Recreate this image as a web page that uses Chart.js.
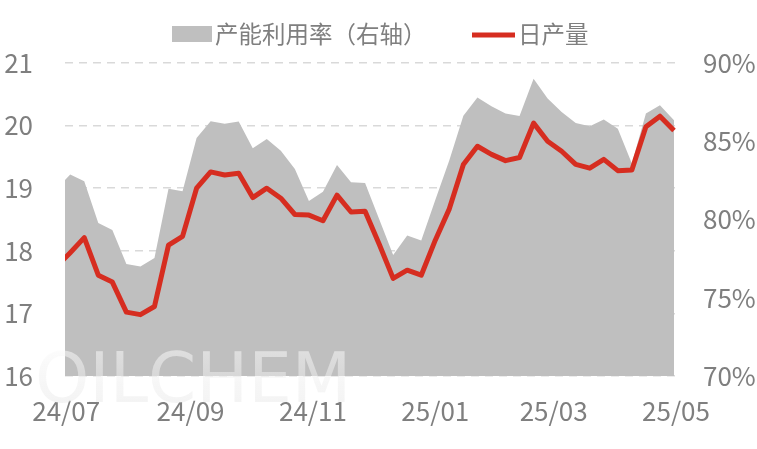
<!DOCTYPE html>
<html>
<head>
<meta charset="utf-8">
<script src="https://cdn.jsdelivr.net/npm/chart.js@4.4.1/dist/chart.umd.min.js"></script>
<style>
  html, body { margin: 0; padding: 0; background: #fff; }
  canvas { display: block; }
</style>
</head>
<body>
<canvas id="chart" width="757" height="449"></canvas>
<script>
// weekly data, first week sits just left of the axis start and gets clipped
var weeks = [
  '2024-06-26', '2024-07-03', '2024-07-10', '2024-07-17', '2024-07-24', '2024-07-31',
  '2024-08-07', '2024-08-14', '2024-08-21', '2024-08-28', '2024-09-04', '2024-09-11',
  '2024-09-18', '2024-09-25', '2024-10-02', '2024-10-09', '2024-10-16', '2024-10-23',
  '2024-10-30', '2024-11-06', '2024-11-13', '2024-11-20', '2024-11-27', '2024-12-04',
  '2024-12-11', '2024-12-18', '2024-12-25', '2025-01-01', '2025-01-08', '2025-01-15',
  '2025-01-22', '2025-01-29', '2025-02-05', '2025-02-12', '2025-02-19', '2025-02-26',
  '2025-03-05', '2025-03-12', '2025-03-19', '2025-03-26', '2025-04-02', '2025-04-09',
  '2025-04-16', '2025-04-23', '2025-04-30'
];

var dailyOutput = [
  17.74, 17.97, 18.21, 17.61, 17.50, 17.02, 16.98, 17.11, 18.09, 18.23,
  19.00, 19.26, 19.21, 19.24, 18.85, 19.00, 18.84, 18.58, 18.57, 18.48,
  18.89, 18.62, 18.63, 18.11, 17.56, 17.69, 17.61, 18.17, 18.67, 19.38,
  19.67, 19.54, 19.44, 19.49, 20.04, 19.75, 19.59, 19.38, 19.32, 19.46,
  19.28, 19.29, 19.98, 20.15, 19.92
];

var utilization = [
  81.9, 82.88, 82.45, 79.77, 79.33, 77.16, 76.99, 77.54, 81.97, 81.80,
  85.20, 86.28, 86.12, 86.26, 84.56, 85.15, 84.40, 83.23, 81.18, 81.77,
  83.49, 82.38, 82.34, 80.03, 77.73, 78.98, 78.66, 81.24, 83.79, 86.63,
  87.79, 87.24, 86.77, 86.62, 89.00, 87.73, 86.87, 86.17, 85.96, 86.39,
  85.80, 83.58, 86.77, 87.30, 86.34
];

var tickDates = ['2024-07-01', '2024-09-01', '2024-11-01', '2025-01-01', '2025-03-01', '2025-05-01'];
var tickLabels = ['24/07', '24/09', '24/11', '25/01', '25/03', '25/05'];

var legendLabels = ['产能利用率（右轴）', '日产量'];

var RED = '#d62d20';
var GRAY = '#bfbfbf';
var TEXT = '#7f7f7f';
var FONT = "'Noto Sans CJK SC', 'Noto Sans', sans-serif";

var dayZero = Date.parse('2024-07-01T00:00:00Z');
function toDay(s) {
  return (Date.parse(s + 'T00:00:00Z') - dayZero) / 86400000;
}

var outputPts = weeks.map(function(w, i) { return { x: toDay(w), y: dailyOutput[i] }; });
var utilPts = weeks.map(function(w, i) { return { x: toDay(w), y: utilization[i] }; });
var tickDays = tickDates.map(toDay);

// legend drawn by hand so spacing matches the original
var legendPlugin = {
  id: 'topLegend',
  afterDraw: function(chart) {
    var ctx = chart.ctx;
    ctx.save();
    ctx.font = '23.5px ' + FONT;
    ctx.textBaseline = 'middle';
    ctx.fillStyle = GRAY;
    ctx.fillRect(172, 26, 40, 16);
    ctx.fillStyle = TEXT;
    ctx.fillText(legendLabels[0], 215, 34);
    ctx.strokeStyle = RED;
    ctx.lineWidth = 5;
    ctx.beginPath();
    ctx.moveTo(472, 35);
    ctx.lineTo(515, 35);
    ctx.stroke();
    ctx.fillStyle = TEXT;
    ctx.fillText(legendLabels[1], 518, 34);
    ctx.restore();
  }
};

var watermarkPlugin = {
  id: 'watermark',
  afterDatasetsDraw: function(chart) {
    var ctx = chart.ctx;
    ctx.save();
    var g = ctx.createLinearGradient(0, 348, 0, 404);
    g.addColorStop(0, 'rgba(250,250,250,0.55)');
    g.addColorStop(1, 'rgba(230,230,230,0.45)');
    ctx.fillStyle = g;
    ctx.font = '69px DejaVu Sans';
    ctx.textBaseline = 'alphabetic';
    ctx.fillText('OILCHEM', 35, 402);
    ctx.restore();
  }
};

Chart.defaults.font.family = FONT;
Chart.defaults.color = TEXT;

new Chart(document.getElementById('chart').getContext('2d'), {
  type: 'line',
  data: {
    datasets: [
      {
        label: legendLabels[1],
        data: outputPts,
        yAxisID: 'y',
        borderColor: RED,
        borderWidth: 5,
        borderJoinStyle: 'round',
        pointRadius: 0,
        fill: false,
        tension: 0
      },
      {
        label: legendLabels[0],
        data: utilPts,
        yAxisID: 'y1',
        backgroundColor: GRAY,
        borderWidth: 0,
        pointRadius: 0,
        fill: 'start',
        tension: 0
      }
    ]
  },
  options: {
    responsive: false,
    animation: false,
    devicePixelRatio: 1,
    layout: { padding: { top: 63, left: 0, right: 0, bottom: 0 } },
    plugins: {
      legend: { display: false },
      tooltip: { enabled: false }
    },
    scales: {
      x: {
        type: 'linear',
        min: -0.6,
        max: 304,
        grid: { display: false, drawTicks: false },
        border: { display: false },
        afterBuildTicks: function(scale) {
          scale.ticks = tickDays.map(function(d) { return { value: d }; });
        },
        afterFit: function(scale) { scale.height = 73; },
        ticks: {
          autoSkip: false,
          maxRotation: 0,
          padding: 20,
          font: { size: 26 },
          color: TEXT,
          callback: function(v, i) { return tickLabels[i]; }
        }
      },
      y: {
        position: 'left',
        min: 16,
        max: 21,
        afterFit: function(scale) { scale.width = 65; },
        grid: { color: '#d9d9d9', lineWidth: 1.5, drawTicks: false },
        border: { display: false, dash: [8, 6] },
        ticks: { stepSize: 1, padding: 32, font: { size: 26 }, color: TEXT }
      },
      y1: {
        position: 'right',
        min: 70,
        max: 90,
        afterFit: function(scale) { scale.width = 81; },
        grid: { display: false, drawTicks: false },
        border: { display: false },
        ticks: {
          stepSize: 5,
          padding: 27,
          font: { size: 26 },
          color: TEXT,
          callback: function(v) { return v + '%'; }
        }
      }
    }
  },
  plugins: [watermarkPlugin, legendPlugin]
});
</script>
</body>
</html>
